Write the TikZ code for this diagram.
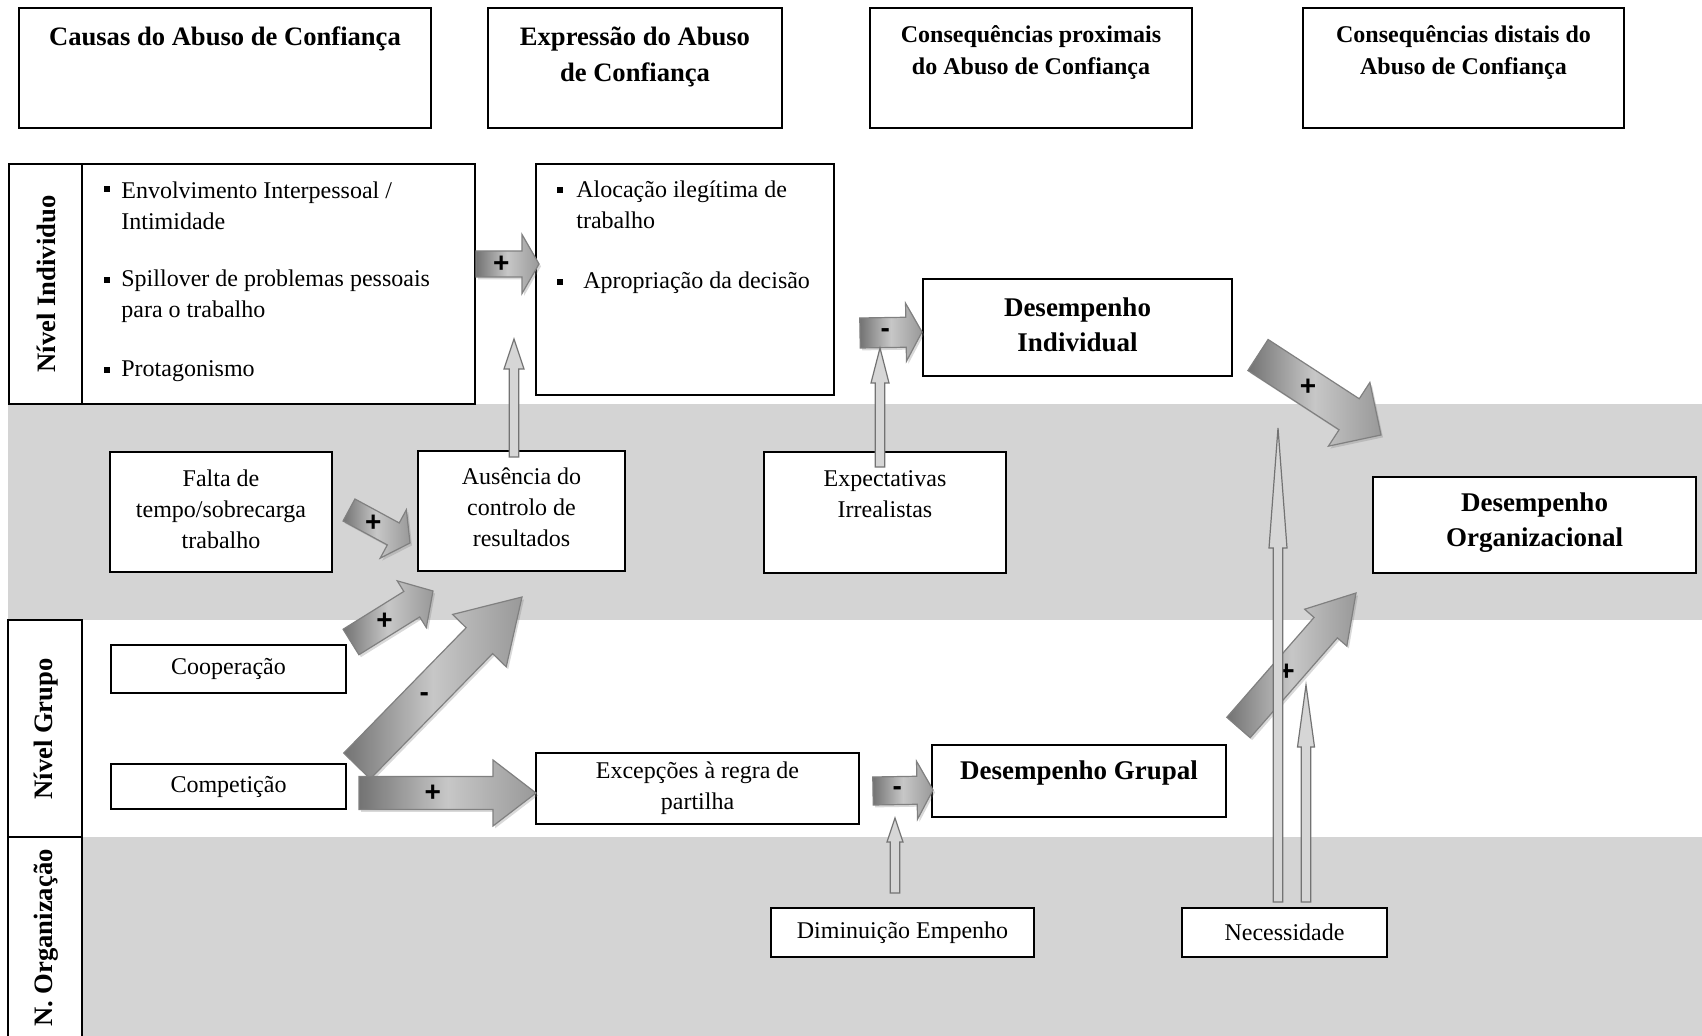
\documentclass[tikz,border=0pt]{standalone}
\usepackage{fontspec}
\setmainfont{Liberation Serif}
\setsansfont{Liberation Sans}
\usetikzlibrary{calc,shadows}
\definecolor{bandgray}{RGB}{212,212,212}
\tikzset{
  box/.style={draw, line width=0.8pt, fill=white, inner sep=0pt, align=center},
  hdbig/.style={font=\fontsize{13.3}{18}\selectfont\bfseries, align=center},
  hdsmall/.style={font=\fontsize{12}{16}\selectfont\bfseries, align=center},
  txt/.style={font=\fontsize{12}{15.6}\selectfont, inner sep=0pt},
  perf/.style={font=\fontsize{13.5}{17.5}\selectfont\bfseries, align=center},
  level/.style={font=\fontsize{13.3}{16}\selectfont\bfseries, rotate=90},
  sqb/.style={fill, inner sep=0pt, minimum size=3.3pt},
  sign/.style={font=\sffamily\bfseries\fontsize{14}{14}\selectfont, inner sep=0pt},
  blockarrow/.style={draw=black!50, line width=0.6pt, left color=black!55, right color=black!40, middle color=black!22,
    drop shadow={opacity=0.3, shadow xshift=1pt, shadow yshift=-1.2pt}},
  needlearrow/.style={draw=black!55, line width=0.6pt, fill=black!16}
}
\newcommand{\fatarrow}[6]{%
  \coordinate (hb) at ($(#2)!#5!(#1)$);
  \draw[blockarrow] ($(#1)!#3!90:(#2)$) -- ($(hb)!#3!90:(#2)$) -- ($(hb)!#4!90:(#2)$) -- (#2)
    -- ($(hb)!#4!-90:(#2)$) -- ($(hb)!#3!-90:(#2)$) -- ($(#1)!#3!-90:(#2)$) -- cycle;
  \node[sign] (#1-s) at ($(#1)!0.55!(hb)$) {#6};
}
\newcommand{\thinarrow}[4]{%
  \coordinate (hb) at ($(#2)!#3!(#1)$);
  \draw[needlearrow] ($(#1)!2.4pt!90:(#2)$) -- ($(hb)!2.4pt!90:(#2)$) -- ($(hb)!#4!90:(#2)$) -- (#2)
    -- ($(hb)!#4!-90:(#2)$) -- ($(hb)!2.4pt!-90:(#2)$) -- ($(#1)!2.4pt!-90:(#2)$) -- cycle;
}

\begin{document}
\begin{tikzpicture}[x=0.5pt, y=-0.5pt]
   \useasboundingbox (0,0) rectangle (1702,1036);
   \fill[bandgray] (8,404) rectangle (1702,620);
   \fill[bandgray] (8,837) rectangle (1702,1036);

   \node[box, minimum width=206pt, minimum height=60pt] (causas) at (225,68) {};
   \node[box, minimum width=147pt, minimum height=60pt] (expr) at (635,68) {};
   \node[box, minimum width=161pt, minimum height=60pt] (prox) at (1031,68) {};
   \node[box, minimum width=160.5pt, minimum height=60pt] (dist) at (1463.5,68) {};
   \node[hdbig] (causas-t) at (225,38.7) {Causas do Abuso de Confiança};
   \node[hdbig] (expr-t) at (635,56.7) {Expressão do Abuso\\de Confiança};
   \node[hdsmall] (prox-t) at (1031,53) {Consequências proximais\\do Abuso de Confiança};
   \node[hdsmall] (dist-t) at (1463.5,53) {Consequências distais do\\Abuso de Confiança};

   \node[box, minimum width=36.5pt, minimum height=120pt] (lvind) at (45.5,284) {};
   \node[box, minimum width=196.5pt, minimum height=120pt] (indiv) at (278.5,284) {};
   \node[box, minimum width=37pt, minimum height=108.5pt] (lvgrp) at (45,728.5) {};
   \draw[fill=white, line width=0.8pt] (8,1036) -- (8,837) -- (82,837) -- (82,1036);
   \node[level] (lvind-t) at (46,284) {Nível Individuo};
   \node[level] (lvgrp-t) at (46,729) {Nível Grupo};
   \node[level] (lvorg-t) at (46,938) {N. Organização};

   \node[box, minimum width=149pt, minimum height=115.5pt] (exprc) at (685,279.5) {};
   \node[box, minimum width=154.5pt, minimum height=48.5pt] (desind) at (1077.5,327.5) {};
   \node[box, minimum width=111pt, minimum height=60pt] (falta) at (221,512) {};
   \node[box, minimum width=103.5pt, minimum height=60pt] (ausen) at (521.5,511) {};
   \node[box, minimum width=121pt, minimum height=60.5pt] (expect) at (885,512.5) {};
   \node[box, minimum width=161.5pt, minimum height=48pt] (desorg) at (1534.5,525) {};
   \node[box, txt, minimum width=117.5pt, minimum height=24pt] (coop) at (228.5,669) {Cooperação};
   \node[box, txt, minimum width=117.5pt, minimum height=22.5pt] (compet) at (228.5,786.5) {Competição};
   \node[box, txt, minimum width=161.5pt, minimum height=35.5pt] (excep) at (697.5,788.5) {Excepções à regra de\\partilha};
   \node[box, minimum width=147pt, minimum height=36pt] (desgrp) at (1079,781) {};
   \node[box, txt, minimum width=131.5pt, minimum height=24.5pt] (dimin) at (902.5,932.5) {Diminuição Empenho};
   \node[box, txt, minimum width=102.5pt, minimum height=24.5pt] (neces) at (1284.5,932.5) {Necessidade};

   \node[sqb] (b1) at (107,189) {};
   \node[txt, align=left, anchor=west] (e1) at (121,205.5) {Envolvimento Interpessoal /\\Intimidade};
   \node[sqb] (b2) at (107,280) {};
   \node[txt, align=left, anchor=west] (e2) at (121,296) {Spillover de problemas pessoais\\para o trabalho};
   \node[sqb] (b3) at (107,370) {};
   \node[txt, anchor=west] (e3) at (121,371.5) {Protagonismo};
   \node[sqb] (b4) at (560,190) {};
   \node[txt, align=left, anchor=west] (x1) at (576,205) {Alocação ilegítima de\\trabalho};
   \node[sqb] (b5) at (560,282) {};
   \node[txt, anchor=west] (x2) at (583,282.5) {Apropriação da decisão};
   \node[perf] (desind-t) at (1077.5,324.5) {Desempenho\\Individual};
   \node[txt, align=center] (falta-t) at (221,509) {Falta de\\tempo/sobrecarga\\trabalho};
   \node[txt, align=center] (ausen-t) at (521.5,507.5) {Ausência do\\controlo de\\resultados};
   \node[txt, align=center] (expect-t) at (885,494) {Expectativas\\Irrealistas};
   \node[perf] (desorg-t) at (1534.5,522.5) {Desempenho\\Organizacional};
   \node[perf] (desgrp-t) at (1079,773) {Desempenho Grupal};

   \coordinate (aInd) at (476,264);      \coordinate (aIndTip) at (539,264);
   \coordinate (aDes) at (860,333);      \coordinate (aDesTip) at (922,332);
   \coordinate (aFal) at (349,510);      \coordinate (aFalTip) at (410,543);
   \coordinate (aCoo) at (351,642);      \coordinate (aCooTip) at (433,591);
   \coordinate (aNeg) at (357,766);      \coordinate (aNegTip) at (522,597);
   \coordinate (aCom) at (359,793);      \coordinate (aComTip) at (536,793);
   \coordinate (aGrp) at (873,791);      \coordinate (aGrpTip) at (933,790);
   \coordinate (aIO) at (1258,355);      \coordinate (aIOTip) at (1381,435);
   \coordinate (aGO) at (1238.5,727.5);  \coordinate (aGOTip) at (1356,593);

   \fatarrow{aInd}{aIndTip}{6.5pt}{14.75pt}{8.5pt}{+}
   \fatarrow{aDes}{aDesTip}{7.5pt}{14.5pt}{8pt}{-}
   \fatarrow{aFal}{aFalTip}{6.25pt}{13.75pt}{9.5pt}{+}
   \fatarrow{aCoo}{aCooTip}{7.5pt}{13.75pt}{12.5pt}{+}
   \fatarrow{aNeg}{aNegTip}{9.25pt}{18.75pt}{30.5pt}{-}
   \fatarrow{aCom}{aComTip}{8.25pt}{16.5pt}{21.5pt}{+}
   \fatarrow{aGrp}{aGrpTip}{7pt}{14.5pt}{8pt}{-}
   \fatarrow{aIO}{aIOTip}{9.25pt}{19pt}{19pt}{+}
   \fatarrow{aGO}{aGOTip}{7.75pt}{14pt}{23pt}{+}

   \coordinate (tAus) at (514,457);   \coordinate (tAusTip) at (514,339);
   \coordinate (tExp) at (880,467);   \coordinate (tExpTip) at (880,348);
   \coordinate (tDim) at (895,893);   \coordinate (tDimTip) at (895,818);
   \coordinate (tNec) at (1278,902);  \coordinate (tNecTip) at (1278,428);
   \coordinate (tNecB) at (1306,902); \coordinate (tNecBTip) at (1306,685);

   \thinarrow{tAus}{tAusTip}{15pt}{5pt}
   \thinarrow{tExp}{tExpTip}{17.5pt}{4.5pt}
   \thinarrow{tDim}{tDimTip}{12pt}{4pt}
   \thinarrow{tNec}{tNecTip}{60pt}{4.5pt}
   \thinarrow{tNecB}{tNecBTip}{31pt}{4.25pt}
\end{tikzpicture}
\end{document}
